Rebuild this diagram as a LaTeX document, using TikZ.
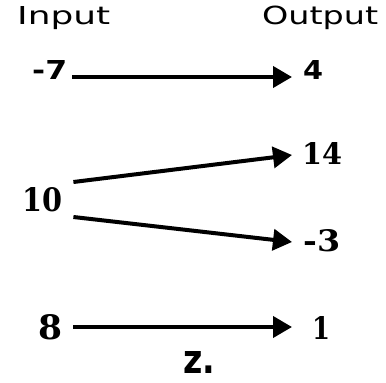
\documentclass[tikz,border=0pt]{standalone}
\usepackage{fontspec}
\usepackage{graphicx}
\setmainfont{DejaVu Sans}
\newfontfamily\numserif{DejaVu Serif}
\usetikzlibrary{arrows.meta,calc}
\newcommand{\fitbox}[3]{\resizebox{#1pt}{#2pt}{#3}}
\tikzset{
  lbl/.style={inner sep=0pt, anchor=base west, text=black},
  conn/.style={line width=4pt, -{Triangle[length=19pt,width=21pt]}, black}
}
\begin{document}
\begin{tikzpicture}[x=1pt,y=1pt]
\useasboundingbox (0,0) rectangle (386,383);
\fill[white] (0,0) rectangle (386,383);
% headers
\node[lbl] (hin) at (17,358) {\fitbox{93}{18}{Input}};
\node[lbl] (hout) at (262,358) {\fitbox{116}{18.5}{Output}};
% inputs
\node[lbl] (m7) at (32,303) {\fitbox{35}{19}{\bfseries -7}};
\node[lbl] (i10) at (22,171) {\fitbox{40}{24}{\numserif\bfseries 10}};
\node[lbl] (i8) at (38,43) {\fitbox{24}{25}{\numserif\bfseries 8}};
% outputs
\node[lbl] (o4) at (303,303) {\fitbox{20}{19}{\bfseries 4}};
\node[lbl] (o14) at (302,218) {\fitbox{40}{22}{\numserif\bfseries 14}};
\node[lbl] (om3) at (303,131) {\fitbox{37}{22}{\numserif\bfseries -3}};
\node[lbl] (o1) at (312,43) {\fitbox{18}{23}{\numserif\bfseries 1}};
% caption
\node[lbl] (cap) at (183,9) {\fitbox{32}{22}{\bfseries z.}};
% connectors
\draw[conn] ($(m7.base east)+(5,3)$) -- ($(o4.base west)+(-11,3)$);
\draw[conn] ($(i10.base east)+(11,30)$) -- ($(o14.base west)+(-10,10)$);
\draw[conn] ($(i10.base east)+(11,-5)$) -- ($(om3.base west)+(-11,10)$);
\draw[conn] ($(i8.base east)+(11,13)$) -- ($(o1.base west)+(-20,13)$);
\end{tikzpicture}
\end{document}
